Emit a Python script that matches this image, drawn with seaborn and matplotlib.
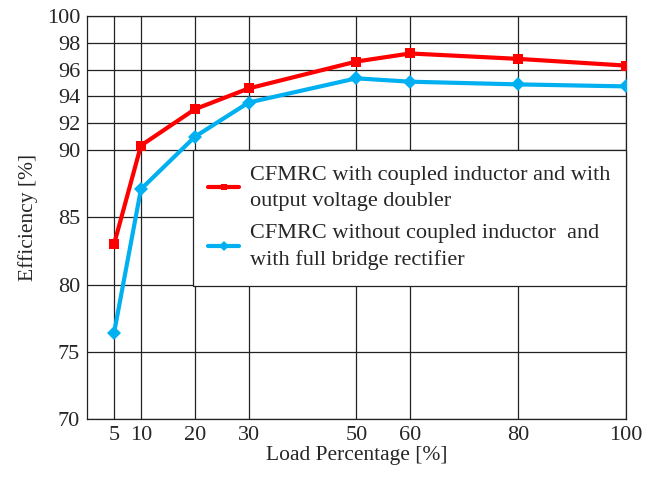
import numpy as np
import pandas as pd
import seaborn as sns
import matplotlib.pyplot as plt

load_pct = [5, 10, 20, 30, 50, 60, 80, 100]
eff_coupled = [83.0, 90.35, 93.05, 94.6, 96.6, 97.2, 96.8, 96.3]
eff_bridge = [76.4, 87.1, 91.0, 93.55, 95.35, 95.1, 94.9, 94.75]

label_coupled = "CFMRC with coupled inductor and with\noutput voltage doubler"
label_bridge = "CFMRC without coupled inductor  and\nwith full bridge rectifier"

x_ticks = [5, 10, 20, 30, 50, 60, 80, 100]
y_ticks = [70, 75, 80, 85, 90, 92, 94, 96, 98, 100]

df = pd.DataFrame({
    "load": load_pct * 2,
    "eff": eff_coupled + eff_bridge,
    "series": [label_coupled] * len(load_pct) + [label_bridge] * len(load_pct),
})

sns.set_style("white")
plt.rcParams["font.family"] = ["Liberation Serif", "DejaVu Serif"]

fig, ax = plt.subplots(figsize=(6.55, 4.8), dpi=100)
fig.subplots_adjust(left=0.133, right=0.955, top=0.967, bottom=0.127)

palette = {label_coupled: "#ff0000", label_bridge: "#00b0f0"}
markers = {label_coupled: "s", label_bridge: "D"}
sns.lineplot(data=df, x="load", y="eff", hue="series", style="series",
             palette=palette, markers=markers, dashes=False, linewidth=3,
             markersize=7, markeredgewidth=0, ax=ax, zorder=3)

ax.set_xlim(0, 100)
ax.set_ylim(70, 100)
ax.set_xticks(x_ticks)
ax.set_yticks(y_ticks)
ax.grid(True, color="#222222", linewidth=0.9)
ax.tick_params(axis="both", labelsize=16, length=0, pad=5)
for spine in ax.spines.values():
    spine.set_color("#222222")
    spine.set_linewidth(0.9)

ax.set_xlabel("Load Percentage [%]", fontsize=15.5, labelpad=1)
ax.set_ylabel("Efficiency [%]", fontsize=15.5, labelpad=6)

leg = ax.legend(loc="upper left", bbox_to_anchor=(0.196, 0.667, 0.804, 0.0),
                mode="expand", fontsize=16, frameon=True, fancybox=False,
                framealpha=1, edgecolor="#222222", handlelength=1.4,
                handletextpad=0.5, labelspacing=0.6, borderaxespad=0,
                borderpad=0.7, markerscale=0.7)
for txt in leg.get_texts():
    txt.set_linespacing(1.5)
leg.get_frame().set_linewidth(0.9)
leg.set_zorder(5)

fig.savefig("out.png", dpi=100)
